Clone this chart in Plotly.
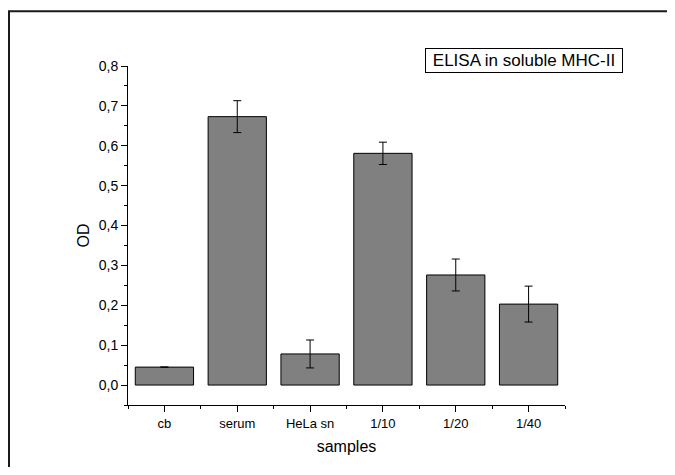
import plotly.graph_objects as go

categories = ["cb", "serum", "HeLa sn", "1/10", "1/20", "1/40"]
od_values = [0.045, 0.673, 0.078, 0.581, 0.276, 0.203]
od_errors = [0.0, 0.040, 0.035, 0.028, 0.040, 0.045]
y_ticks = [0.0, 0.1, 0.2, 0.3, 0.4, 0.5, 0.6, 0.7, 0.8]

FONT = "Arial, Liberation Sans, sans-serif"
x_pos = list(range(len(categories)))
boundaries = [i - 0.5 for i in range(len(categories) + 1)]
err_array = [e if e > 0 else None for e in od_errors]

# figure coordinates (page has an 8px body margin)
W, H = 659, 459
PL, PR, PT, PB = 120, 557, 58, 397
PW, PH = PR - PL, PB - PT


def px(x):
    return (x - PL) / PW


def py(y):
    return (PB - y) / PH


fig = go.Figure()
fig.add_trace(go.Bar(
    x=x_pos, y=od_values, width=0.8,
    marker=dict(color="#808080", line=dict(color="black", width=1)),
    error_y=dict(type="data", array=err_array, visible=True,
                 color="black", thickness=1, width=4),
    showlegend=False,
))

fig.update_layout(
    width=W, height=H,
    margin=dict(l=PL, r=W - PR, t=PT, b=H - PB, autoexpand=False),
    paper_bgcolor="white", plot_bgcolor="white",
    separators=",.",
    font=dict(family=FONT, color="black", size=13),
    xaxis=dict(
        range=[-0.5, len(categories) - 0.5],
        tickmode="array", tickvals=x_pos, ticktext=categories,
        ticks="outside", ticklen=6, tickwidth=1, tickcolor="black",
        minor=dict(tickmode="array", tickvals=boundaries, ticks="outside",
                   ticklen=3, tickwidth=1, tickcolor="black"),
        showline=True, linecolor="black", linewidth=1,
        showgrid=False, zeroline=False,
        tickfont=dict(size=13, family=FONT),
        title=dict(text="samples", font=dict(size=16, family=FONT), standoff=11),
        automargin=False,
    ),
    yaxis=dict(
        range=[-0.05, 0.8],
        tickmode="array", tickvals=y_ticks, tickformat=".1f",
        ticks="outside", ticklen=6, tickwidth=1, tickcolor="black",
        minor=dict(tickmode="linear", tick0=0.05, dtick=0.1, ticks="outside",
                   ticklen=3, tickwidth=1, tickcolor="black"),
        showline=True, linecolor="black", linewidth=1,
        showgrid=False, zeroline=False,
        tickfont=dict(size=14, family=FONT),
        title=dict(text="OD", font=dict(size=16, family=FONT), standoff=5),
        automargin=False,
    ),
    shapes=[
        dict(type="rect", xref="paper", yref="paper",
             x0=px(1), x1=px(740), y0=py(3.3), y1=py(560),
             line=dict(color="#1a1a1a", width=2), fillcolor="rgba(0,0,0,0)",
             layer="below"),
    ],
    annotations=[
        dict(text="ELISA in soluble MHC-II", xref="paper", yref="paper",
             x=px(516), y=py(52.5),
             xanchor="center", yanchor="middle", showarrow=False,
             font=dict(size=17, family=FONT, color="black"),
             bordercolor="black", borderwidth=1, borderpad=2,
             width=192, height=19, bgcolor="white"),
    ],
)

fig.write_html("out.html", config={"displayModeBar": False})
